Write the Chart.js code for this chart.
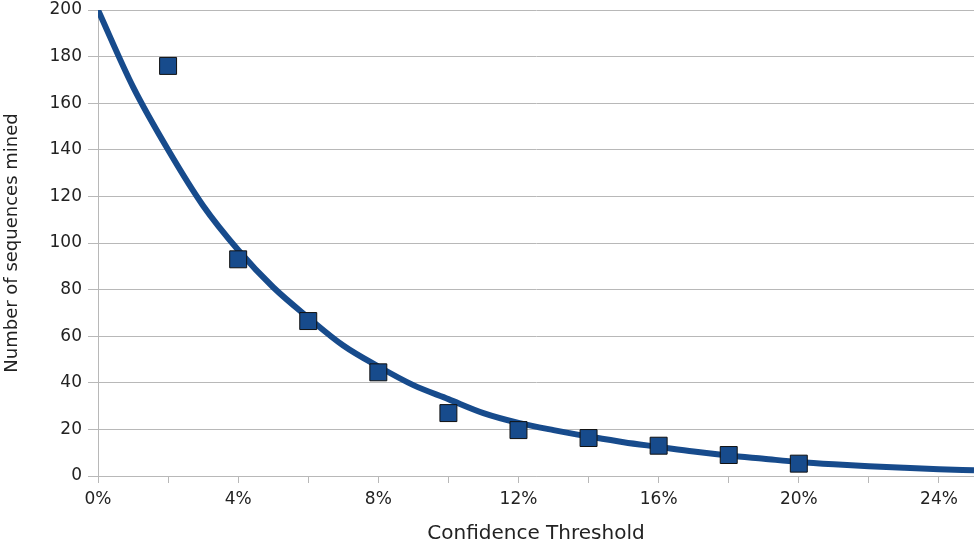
<!DOCTYPE html>
<html lang="en">
<head>
    <meta charset="UTF-8">
    <title>Confidence Threshold</title>
    <script src="https://cdn.jsdelivr.net/npm/chart.js"></script>
    <style>
        html, body { margin: 0; padding: 0; background: #fff; overflow: hidden; }
        canvas { display: block; }
    </style>
</head>
<body>
    <canvas id="chart" width="974" height="546"></canvas>
    <script>
        // measured points (threshold in %, sequences mined)
        const thresholds = [2, 4, 6, 8, 10, 12, 14, 16, 18, 20];
        const sequences = [176, 93, 66.5, 44.5, 27, 19.7, 16.3, 13, 9, 5.3];

        // trend line, every 1%
        const trendX = [0, 1, 2, 3, 4, 5, 6, 7, 8, 9, 10, 11, 12, 13, 14, 15, 16, 17, 18, 19, 20, 21, 22, 23, 24, 25];
        const trendY = [200, 167, 140, 116, 97, 81, 68, 56, 47, 39, 33, 27, 22.8, 19.7, 17, 14.5, 12.5, 10.5, 8.8, 7.4, 6.0, 5.0, 4.2, 3.5, 2.9, 2.5];

        const blue = '#174b8c';
        const gridGrey = '#b8b8b8';
        const textColor = '#222';
        const fontFamily = '"DejaVu Sans", sans-serif';

        const ctx = document.getElementById('chart').getContext('2d');
        new Chart(ctx, {
            data: {
                datasets: [
                    {
                        type: 'scatter',
                        label: 'Sequences',
                        data: thresholds.map((t, i) => ({ x: t, y: sequences[i] })),
                        pointStyle: 'rect',
                        pointRadius: 12,
                        pointHoverRadius: 12,
                        backgroundColor: blue,
                        borderColor: '#111',
                        borderWidth: 1,
                        order: 1
                    },
                    {
                        type: 'line',
                        label: 'Trend',
                        data: trendX.map((t, i) => ({ x: t, y: trendY[i] })),
                        borderColor: blue,
                        borderWidth: 6,
                        pointRadius: 0,
                        cubicInterpolationMode: 'monotone',
                        fill: false,
                        order: 2
                    }
                ]
            },
            options: {
                responsive: false,
                animation: false,
                events: [],
                layout: { padding: 0, autoPadding: false },
                plugins: {
                    legend: { display: false },
                    tooltip: { enabled: false }
                },
                scales: {
                    x: {
                        type: 'linear',
                        min: 0,
                        max: 25,
                        border: { display: true, color: gridGrey, width: 1 },
                        grid: {
                            drawOnChartArea: false,
                            color: gridGrey,
                            tickLength: 7
                        },
                        ticks: {
                            stepSize: 2,
                            includeBounds: false,
                            autoSkip: false,
                            maxRotation: 0,
                            padding: 6,
                            color: textColor,
                            font: { family: fontFamily, size: 17 },
                            callback: (v) => (v % 4 === 0 ? v + '%' : '')
                        },
                        title: {
                            display: true,
                            text: 'Confidence Threshold',
                            color: textColor,
                            font: { family: fontFamily, size: 20 },
                            padding: { top: 6, bottom: 0 }
                        },
                        afterFit: (scale) => {
                            scale.height = 70;
                            scale.paddingLeft = 0;
                            scale.paddingRight = 0;
                        }
                    },
                    y: {
                        min: 0,
                        max: 200,
                        border: { display: true, color: gridGrey, width: 1 },
                        grid: {
                            color: gridGrey,
                            tickLength: 10
                        },
                        ticks: {
                            stepSize: 20,
                            padding: 6,
                            color: textColor,
                            font: { family: fontFamily, size: 17 }
                        },
                        title: {
                            display: true,
                            text: 'Number of sequences mined',
                            color: textColor,
                            font: { family: fontFamily, size: 18 },
                            padding: { top: 2, bottom: 2 }
                        },
                        afterFit: (scale) => {
                            scale.width = 98;
                            scale.paddingTop = 10;
                            scale.paddingBottom = 0;
                        }
                    }
                }
            }
        });
    </script>
</body>
</html>
